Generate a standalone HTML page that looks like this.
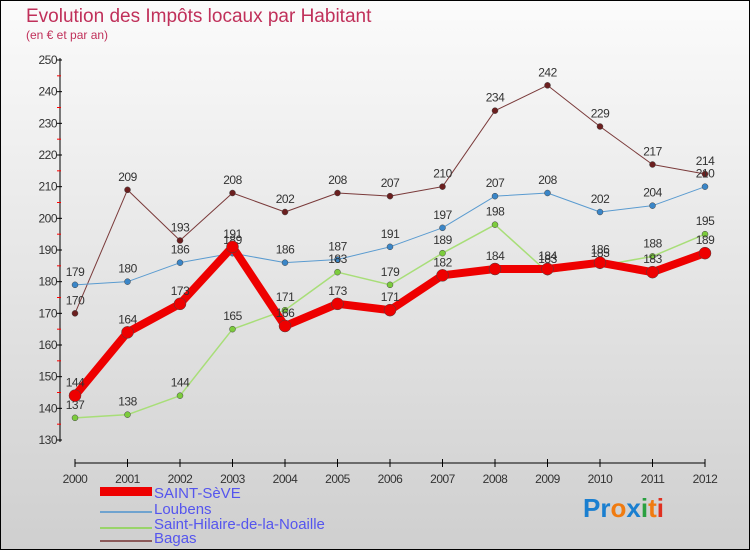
<!DOCTYPE html>
<html><head><meta charset="utf-8"><style>
body{margin:0;width:750px;height:550px;overflow:hidden;font-family:"Liberation Sans",sans-serif}
svg{display:block}
</style></head><body>
<svg id="c" width="750" height="550">
<defs><linearGradient id="bg" x1="0" y1="0" x2="0" y2="1"><stop offset="0" stop-color="#fbfbfb"/><stop offset="1" stop-color="#cfcfcf"/></linearGradient></defs>
<rect x="0.5" y="0.5" width="749" height="549" fill="url(#bg)" stroke="#000"/>
<text x="26" y="22" font-size="19" fill="#c0305a">Evolution des Impôts locaux par Habitant</text>
<text x="26" y="39" font-size="12" fill="#c0305a">(en € et par an)</text>
<g id="axes"></g><g id="series"></g>
<g>
<rect x="100" y="487" width="52" height="9" fill="#e00"/>
<text x="154" y="498" font-size="15" fill="#5555ee">SAINT-SèVE</text>
<line x1="100" x2="152" y1="546" y2="546" stroke="#fff" opacity="0"/>
<line x1="100" x2="152" y1="512" y2="512" stroke="#6fa3cf" stroke-width="2"/>
<text x="154" y="514" font-size="15" fill="#5555ee">Loubens</text>
<line x1="100" x2="152" y1="528" y2="528" stroke="#99d46a" stroke-width="2"/>
<text x="154" y="529" font-size="15" fill="#5555ee">Saint-Hilaire-de-la-Noaille</text>
<line x1="100" x2="152" y1="541" y2="541" stroke="#8b5a5a" stroke-width="2"/>
<text x="154" y="543" font-size="15" fill="#5555ee">Bagas</text>
</g>
<text x="583" y="517" font-size="26" font-weight="bold"><tspan fill="#1a7fd0">Pr</tspan><tspan fill="#f07b10">o</tspan><tspan fill="#1a7fd0">x</tspan><tspan fill="#2aa040">i</tspan><tspan fill="#f07b10">t</tspan><tspan fill="#e03020">i</tspan></text>
</svg>
<script>
const years=[2000,2001,2002,2003,2004,2005,2006,2007,2008,2009,2010,2011,2012];
const yTicks=[130,140,150,160,170,180,190,200,210,220,230,240,250];
const saintSeve=[144,164,173,191,166,173,171,182,184,184,186,183,189];
const loubens=[179,180,186,189,186,187,191,197,207,208,202,204,210];
const saintHilaire=[137,138,144,165,171,183,179,189,198,183,185,188,195];
const bagas=[170,209,193,208,202,208,207,210,234,242,229,217,214];
const NS="http://www.w3.org/2000/svg";
const x=i=>75+i*(705-75)/(years.length-1);
const y=v=>60+(250-v)*(440-60)/120;
function mk(t,a,p){const e=document.createElementNS(NS,t);for(const k in a)e.setAttribute(k,a[k]);p.appendChild(e);return e;}
const ax=document.getElementById('axes');
let l=mk('line',{x1:60,x2:60,y1:58,y2:442,stroke:'#000'},ax);


l=mk('line',{x1:75,x2:705,y1:463,y2:463,stroke:'#000'},ax);


yTicks.forEach(v=>{
 mk('line',{x1:57,x2:62,y1:y(v),y2:y(v),stroke:'#000'},ax);
 if(v<250)mk('line',{x1:57,x2:61,y1:y(v+5),y2:y(v+5),stroke:'#f00'},ax);
 const t=mk('text',{x:57,y:y(v)+4,'font-size':12,fill:'#333','text-anchor':'end','letter-spacing':'-0.5'},ax);t.textContent=v;
 
 
});
years.forEach((yr,i)=>{
 mk('line',{x1:x(i),x2:x(i),y1:459,y2:467,stroke:'#000'},ax);
 const t=mk('text',{x:x(i),y:483,'font-size':12,fill:'#333','text-anchor':'middle','letter-spacing':'-0.5'},ax);t.textContent=yr;
 
 
});
const sg=document.getElementById('series');
function draw(name,data,color,w,r,dot,labDy){
 const g=mk('g',{},sg);
 
 
 const p=mk('polyline',{points:data.map((v,i)=>x(i)+','+y(v)).join(' '),fill:'none',stroke:color,'stroke-width':w,'stroke-linejoin':'round'},g);
 
 
 data.forEach((v,i)=>{
  const c=mk('circle',{cx:x(i),cy:y(v),r:r,fill:dot,stroke:'#444','stroke-width':0.5},g);
  
  
  const t=mk('text',{x:x(i),y:y(v)+labDy,'font-size':12,fill:'#333','text-anchor':'middle','letter-spacing':'-0.5'},g);t.textContent=v;
  
  
 });
}
draw('bagas',bagas,'#7a3a3a',1,3,'#6b1f1f',-9);
draw('loubens',loubens,'#5a9bd0',1,3,'#3a86c8',-9);
draw('saint-hilaire',saintHilaire,'#a8de78',1.5,3,'#7ccc3c',-9);
draw('saint-seve',saintSeve,'#ee0000',8,6,'#ee0000',-9);
</script>
</body></html>
